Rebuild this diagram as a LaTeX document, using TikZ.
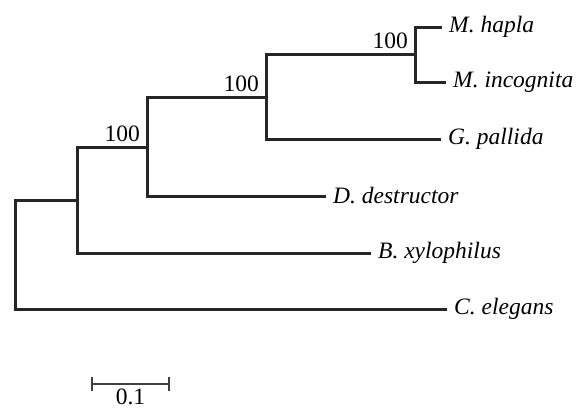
\documentclass[tikz,border=0pt]{standalone}
\usepackage{fontspec}
\setmainfont{Liberation Serif}
\usetikzlibrary{calc}
\begin{document}
\begin{tikzpicture}[x=1pt,y=-1pt,
  branch/.style={line width=3pt, draw=black!85},
  scalebar/.style={line width=1.6pt, draw=black!75},
  taxon/.style={anchor=west, inner sep=0pt, xshift=7pt, font=\fontsize{23.5}{28}\selectfont\itshape},
  support/.style={anchor=base east, inner sep=0pt, font=\fontsize{23.5}{28}\selectfont},
  scalelabel/.style={anchor=north, inner sep=0pt, font=\fontsize{23.5}{28}\selectfont}]
\useasboundingbox (0,0) rectangle (582,410);
% internal nodes
\coordinate (n1) at (15,254.5);
\coordinate (n2) at (77,200);
\coordinate (n3) at (147,147);
\coordinate (n4) at (266,97);
\coordinate (n5) at (415,54.5);
% leaf ends
\coordinate (lh) at (442,27);
\coordinate (li) at (446,82);
\coordinate (lg) at (441,139);
\coordinate (ld) at (326,196);
\coordinate (lb) at (371,253);
\coordinate (lc) at (447,309);
% taxa
\node[taxon] (th) at (lh) {M. hapla};
\node[taxon] (ti) at (li) {M. incognita};
\node[taxon] (tg) at (lg) {G. pallida};
\node[taxon] (td) at (ld) {D. destructor};
\node[taxon] (tb) at (lb) {B. xylophilus};
\node[taxon] (tc) at (lc) {C. elegans};
% branches
\draw[branch] (lh) -| (n5);
\draw[branch] (li) -| (n5);
\draw[branch] (n5) -| (n4);
\draw[branch] (lg) -| (n4);
\draw[branch] (n4) -| (n3);
\draw[branch] (ld) -| (n3);
\draw[branch] (n3) -| (n2);
\draw[branch] (lb) -| (n2);
\draw[branch] (n2) -| (n1);
\draw[branch] (lc) -| (n1);
% support values
\node[support] (s5) at ([xshift=-7pt,yshift=6pt]n5) {100};
\node[support] (s4) at ([xshift=-7pt,yshift=6pt]n4) {100};
\node[support] (s3) at ([xshift=-7pt,yshift=6pt]n3) {100};
% scale bar
\coordinate (sb1) at (92,384);
\coordinate (sb2) at (169,384);
\coordinate (sbm) at ($(sb1)!0.5!(sb2)$);
\draw[scalebar] (sb1) -- (sb2);
\draw[scalebar] ([yshift=7pt]sb1) -- ([yshift=-7pt]sb1);
\draw[scalebar] ([yshift=7pt]sb2) -- ([yshift=-7pt]sb2);
\node[scalelabel] (sl) at ([yshift=-5pt]sbm) {0.1};
\end{tikzpicture}
\end{document}
